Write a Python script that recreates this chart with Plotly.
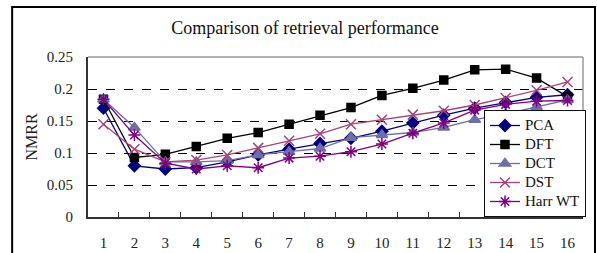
import plotly.graph_objects as go

categories = [str(i) for i in range(1, 17)]
pca = [0.170, 0.080, 0.075, 0.077, 0.086, 0.097, 0.106, 0.115, 0.123, 0.134, 0.147, 0.159, 0.170, 0.179, 0.187, 0.191]
dft = [0.184, 0.093, 0.098, 0.110, 0.123, 0.132, 0.145, 0.159, 0.171, 0.190, 0.201, 0.214, 0.230, 0.231, 0.217, 0.188]
dct = [0.184, 0.140, 0.086, 0.086, 0.088, 0.097, 0.102, 0.107, 0.124, 0.128, 0.132, 0.140, 0.152, 0.161, 0.172, 0.183]
dst = [0.145, 0.106, 0.086, 0.089, 0.097, 0.108, 0.119, 0.130, 0.145, 0.152, 0.160, 0.166, 0.175, 0.186, 0.198, 0.211]
harr = [0.184, 0.128, 0.084, 0.075, 0.080, 0.077, 0.092, 0.095, 0.102, 0.114, 0.131, 0.147, 0.167, 0.176, 0.181, 0.182]
y_ticks = [0, 0.05, 0.1, 0.15, 0.2, 0.25]
y_tick_labels = ["0", "0.05", "0.1", "0.15", "0.2", "0.25"]

series = [
    ("PCA", pca, "#000080", "diamond", 9),
    ("DFT", dft, "#000000", "square", 8),
    ("DCT", dct, "#6E6EAA", "triangle-up", 10),
    ("DST", dst, "#A5447A", "x-thin-open", 10),
    ("Harr WT", harr, "#800080", "asterisk-open", 10),
]

FONT = "Liberation Serif"

fig = go.Figure()
for name, vals, color, sym, size in series:
    fig.add_trace(go.Scatter(
        x=categories, y=vals, mode="lines+markers",
        name="<span style='font-size:15px'>" + name + "</span>",
        line=dict(color=color, width=1.3),
        marker=dict(symbol=sym, size=size, color=color, line=dict(color=color, width=1.5)),
    ))

fig.update_layout(
    width=597, height=253,
    margin=dict(l=88, r=13, t=57, b=36),
    paper_bgcolor="white", plot_bgcolor="white",
    font=dict(family=FONT, size=14, color="#222"),
    title=dict(text="Comparison of retrieval performance", x=305 / 597, xanchor="center",
               y=1 - 28 / 253, yanchor="middle", font=dict(family=FONT, size=18, color="#111")),
    legend=dict(x=1.004, xanchor="right", y=0, yanchor="bottom",
                bordercolor="#111", borderwidth=1, bgcolor="white",
                font=dict(family=FONT, size=12, color="#111"),
                tracegroupgap=0, itemwidth=30),
    showlegend=True,
)
fig.update_xaxes(
    type="category", range=[-0.5, 15.5], automargin=False,
    showline=True, linecolor="#333", linewidth=2,
    ticks="inside", tickson="boundaries", ticklen=5, tickcolor="#333",
    showgrid=False, ticklabelstandoff=11,
    tickfont=dict(family=FONT, size=15, color="#222"),
)
fig.update_yaxes(
    range=[0, 0.25], tickvals=y_ticks, ticktext=y_tick_labels, automargin=False,
    showline=True, linecolor="#333", linewidth=2,
    showgrid=True, gridcolor="#000", gridwidth=1, griddash="dash",
    zeroline=False, ticks="", ticklabelstandoff=10,
    tickfont=dict(family=FONT, size=15, color="#222"),
    title=dict(text="NMRR", standoff=5, font=dict(family=FONT, size=16, color="#222")),
)
# plot-area border (top/right) in light gray
fig.add_shape(type="line", xref="paper", yref="paper", x0=0, x1=1, y0=1, y1=1,
              line=dict(color="#999", width=1.5), layer="above")
fig.add_shape(type="line", xref="paper", yref="paper", x0=1, x1=1, y0=0, y1=1,
              line=dict(color="#999", width=1.5), layer="above")
# outer chart frame
fig.add_shape(type="rect", xref="paper", yref="paper",
              x0=(12 - 88) / 496, x1=(596 - 88) / 496,
              y0=(217 - 270) / 160, y1=(217 - 7) / 160,
              line=dict(color="#000", width=2), layer="above")

fig.write_html("out.html", config={"displayModeBar": False},
               post_script="document.body.style.margin='0';document.body.style.overflow='hidden';")
